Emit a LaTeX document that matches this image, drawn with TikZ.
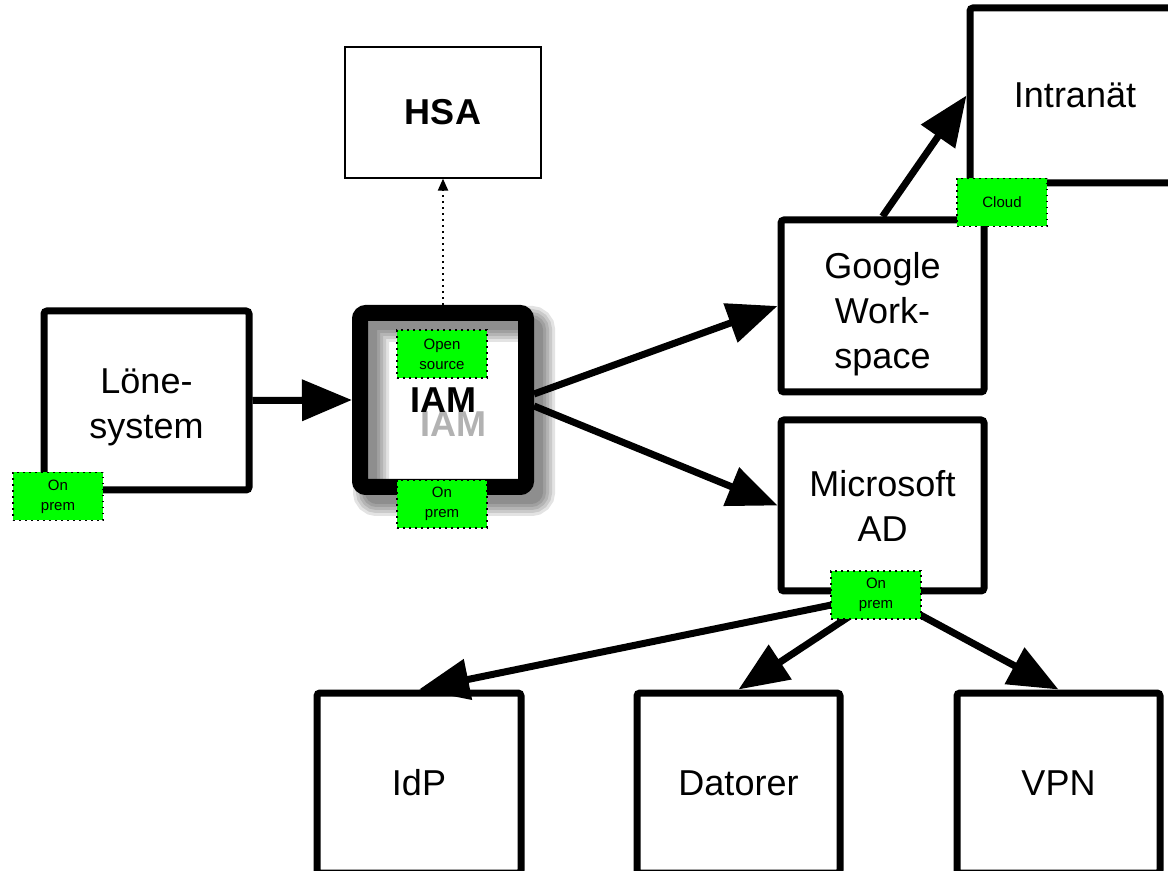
\documentclass[tikz,border=0pt]{standalone}
\usepackage{fontspec}
\setmainfont{Liberation Sans}
\usetikzlibrary{arrows.meta}
\definecolor{tagg}{HTML}{00FF00}

\tikzset{
  box/.style={draw, line width=3.5pt, rounded corners=1.5pt, align=center,
    font=\fontsize{18}{22.5}\selectfont, inner sep=0pt},
  tagbox/.style={draw, fill=tagg, line width=0.9pt, dash pattern=on 0.9pt off 2.1pt,
    minimum width=45pt, minimum height=24pt, align=center,
    font=\fontsize{7.5}{10}\selectfont, inner sep=0pt},
  link/.style={line width=3.5pt, -{Triangle[length=25pt,width=20pt]}},
  bold/.style={font=\fontsize{18}{22}\selectfont\bfseries},
}

\begin{document}
\begin{tikzpicture}[x=0.5pt,y=-0.5pt]
\useasboundingbox (0,0) rectangle (1168,871);
\clip (0,0) rectangle (1168,871);

% shadow of the IAM frame and its text
\foreach \w in {6,9,12,15,18}
  \draw[black, opacity=0.11, line width=\w pt, rounded corners=3pt] (371,324) rectangle (537,498);
\node[bold, text=black, opacity=0.3] (iamshade) at (453,424) {IAM};

% boxes
\node[box, line width=0.6pt, rounded corners=0pt, minimum width=98pt, minimum height=65.5pt, bold] (hsa) at (443,112.5) {HSA};
\node[box, minimum width=102.5pt, minimum height=89.5pt, text height=41.6pt, text depth=3.8pt] (lone) at (146.5,400.5) {Löne-\\system};
\node[box, line width=8pt, rounded corners=3pt, minimum width=83pt, minimum height=87pt, bold] (iam) at (443,400) {IAM};
\node[box, minimum width=101.5pt, minimum height=86pt, text height=66pt, text depth=3.8pt] (google) at (882.5,306) {Google\\Work-\\space};
\node[box, minimum width=101.5pt, minimum height=85.5pt] (ms) at (882.5,505.5) {Microsoft\\AD};
\node[box, minimum width=105pt, minimum height=87.5pt] (intra) at (1075,95.5) {Intranät};
\node[box, minimum width=102pt, minimum height=90pt] (idp) at (419,783) {IdP};
\node[box, minimum width=101.5pt, minimum height=90pt] (dator) at (738.5,783) {Datorer};
\node[box, minimum width=101.5pt, minimum height=90pt] (vpn) at (1058.5,783) {VPN};

% connectors
\draw[line width=1pt, dotted, -{Triangle[length=6pt,width=5pt]}] (iam.north) -- (hsa.south);
\draw[link] (lone.east) -- (iam.west);
\draw[link] ([yshift=3pt]iam.east) -- (google.west);
\draw[link] ([yshift=-3pt]iam.east) -- (ms.west);
\draw[link] (google.north) -- (intra.west);
\draw[link] (ms.south) -- (idp.north);
\draw[link] (ms.south) -- (dator.north);
\draw[link] (ms.south) -- (vpn.north);

% tags
\node[tagbox] (lonetag) at (58,496.5) {On\\prem};
\node[tagbox] (iamsrc) at (442,354) {Open\\source};
\node[tagbox] (iamprem) at (442,504) {On\\prem};
\node[tagbox] (cloud) at (1002,202.5) {Cloud};
\node[tagbox] (mstag) at (876,595) {On\\prem};
\end{tikzpicture}
\end{document}
